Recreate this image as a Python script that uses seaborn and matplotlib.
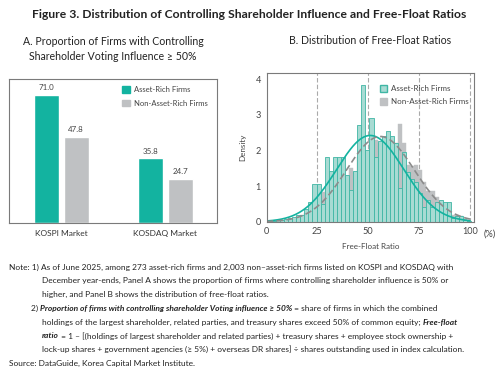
"""
Figure 3: controlling shareholder influence and free-float ratios
"""

import numpy as np
import pandas as pd
import matplotlib
matplotlib.use("Agg")
import matplotlib.pyplot as plt
import matplotlib.patches as mpatches
import seaborn as sns

sns.set_style("white")
plt.rcParams["font.family"] = ["Lato", "DejaVu Sans"]

TEAL = "#13b3a0"
TEAL_LIGHT = "#a8dbd3"
TEAL_EDGE = "#3fb6a4"
GRAY = "#bfc1c3"
GRAY_DARK = "#8c8c8c"
TXT = "#222222"
W, H = 498, 376

# ── data ──────────────────────────────────────────────────────────────────────
markets = ["KOSPI Market", "KOSDAQ Market"]
groups = ["Asset-Rich Firms", "Non-Asset-Rich Firms"]
asset_rich_pct = [71.0, 35.8]
non_asset_rich_pct = [47.8, 24.7]

# free-float histogram, 50 bins of width 2 starting at 0.6 (density, %)
bin_start, bin_width = 0.6, 2.0
asset_rich_density = [
    0.03, 0.03, 0.05, 0.05, 0.08, 0.10, 0.12, 0.20, 0.20, 0.36,
    0.55, 1.06, 1.06, 0.50, 1.82, 1.43, 1.82, 1.82, 1.82, 1.30,
    0.88, 1.43, 2.72, 3.84, 2.00, 2.90, 1.80, 2.27, 2.40, 2.55,
    2.40, 2.20, 0.95, 1.94, 1.38, 1.20, 1.10, 0.80, 0.40, 0.60,
    0.40, 0.55, 0.60, 0.55, 0.55, 0.10, 0.15, 0.15, 0.05, 0.03,
]
non_asset_rich_density = [
    0.02, 0.02, 0.03, 0.05, 0.06, 0.08, 0.10, 0.15, 0.20, 0.25,
    0.35, 0.50, 0.60, 0.82, 1.00, 1.10, 1.20, 1.30, 1.40, 1.20,
    1.50, 1.40, 1.80, 2.00, 1.90, 2.20, 2.30, 2.20, 2.30, 2.40,
    2.30, 2.20, 2.74, 2.20, 1.60, 1.55, 1.60, 1.45, 1.10, 0.85,
    0.85, 0.70, 0.50, 0.45, 0.30, 0.20, 0.20, 0.15, 0.08, 0.03,
]
# fitted normal curves (mean, sd of free-float ratio, %)
asset_rich_fit = (51.0, 16.5)
non_asset_rich_fit = (56.0, 16.7)

title = "Figure 3. Distribution of Controlling Shareholder Influence and Free-Float Ratios"
title_a = "A. Proportion of Firms with Controlling\nShareholder Voting Influence \u2265 50%"
title_b = "B. Distribution of Free-Float Ratios"

notes = [
    (9, [("Note: 1) As of June 2025, among 273 asset-rich firms and 2,003 non\u2013asset-rich firms listed on KOSPI and KOSDAQ with", "")]),
    (42, [("December year-ends, Panel A shows the proportion of firms where controlling shareholder influence is 50% or", "")]),
    (42, [("higher, and Panel B shows the distribution of free-float ratios.", "")]),
    (31, [("2) ", ""), ("Proportion of firms with controlling shareholder Voting influence \u2265 50%", "bi"),
          (" = share of firms in which the combined", "")]),
    (42, [("holdings of the largest shareholder, related parties, and treasury shares exceed 50% of common equity; ", ""),
          ("Free-float", "bi")]),
    (42, [("ratio", "bi"), (" = 1 \u2013 [(holdings of largest shareholder and related parties) + treasury shares + employee stock ownership +", "")]),
    (42, [("lock-up shares + government agencies (\u2265 5%) + overseas DR shares] \u00f7 shares outstanding used in index calculation.", "")]),
    (9, [("Source: DataGuide, Korea Capital Market Institute.", "")]),
]


def px(x, y, w=0, h=0):
    """pixel box (from top-left) -> figure fraction rect"""
    return [x / W, 1 - (y + h) / H, w / W, h / H]


def rich_line(fig, x, y, parts, size=6.0):
    r = fig.canvas.get_renderer()
    for s, style in parts:
        t = fig.text(x / W, 1 - y / H, s, fontsize=size, color=TXT, va="baseline",
                     fontweight="bold" if "b" in style else "normal",
                     fontstyle="italic" if "i" in style else "normal")
        x += t.get_window_extent(r).width


fig = plt.figure(figsize=(W / 100, H / 100), dpi=100)

fig.text(0.5, 1 - 14 / H, title, ha="center", va="center", fontsize=8.7,
         fontweight="bold", color=TXT)
fig.text(113 / W, 1 - 49 / H, title_a, ha="center", va="center", fontsize=7.6,
         color=TXT, linespacing=1.55)
fig.text(370 / W, 1 - 41 / H, title_b, ha="center", va="center", fontsize=7.6, color=TXT)

# ── Panel A: bar chart ────────────────────────────────────────────────────────
df_a = pd.DataFrame({
    "market": markets * 2,
    "group": [groups[0]] * 2 + [groups[1]] * 2,
    "pct": asset_rich_pct + non_asset_rich_pct,
})
ax1 = fig.add_axes(px(9.3, 79.3, 208, 144))
sns.barplot(data=df_a, x="market", y="pct", hue="group", order=markets, hue_order=groups,
            palette=[TEAL, GRAY], width=0.568, gap=0.155, saturation=1, ax=ax1, legend=False)
for c in ax1.containers:
    ax1.bar_label(c, fmt="%.1f", padding=2.5, fontsize=5.7, color="#444444")
ax1.set_xlim(-0.5, 1.5)
ax1.set_ylim(0, 79.5)
ax1.set_yticks([])
ax1.set_xlabel(""); ax1.set_ylabel("")
ax1.tick_params(axis="x", length=0, labelsize=6.0, labelcolor="#333333", pad=5)
for s in ax1.spines.values():
    s.set_color("#7a7a7a"); s.set_linewidth(0.8)
h_a = [mpatches.Patch(color=TEAL, label=groups[0]),
       mpatches.Patch(color=GRAY, label=groups[1])]
ax1.legend(handles=h_a, loc="upper right", bbox_to_anchor=(0.985, 1.0), frameon=False,
           fontsize=5.5, handlelength=0.95, handleheight=0.95, handletextpad=0.5,
           labelspacing=0.85, labelcolor="#444444")

# ── Panel B: histogram + fitted normals ───────────────────────────────────────
n_bins = len(asset_rich_density)
df_b = pd.DataFrame({
    "center": bin_start + bin_width * (np.arange(n_bins) + 0.5),
    "asset": asset_rich_density,
    "non_asset": non_asset_rich_density,
})
hist_kw = dict(x="center", binwidth=bin_width, stat="count",
               binrange=(bin_start, bin_start + bin_width * n_bins))
ax2 = fig.add_axes(px(266.5, 73.3, 207.5, 148.4))
sns.histplot(data=df_b, weights="non_asset", color=GRAY, alpha=1, edgecolor=GRAY,
             linewidth=0.3, ax=ax2, **hist_kw)
sns.histplot(data=df_b, weights="asset", color=TEAL_LIGHT, alpha=1, edgecolor=TEAL_EDGE,
             linewidth=0.6, ax=ax2, **hist_kw)
xs = np.linspace(0, 100, 300)
for (mu, sd), col, ls in [(asset_rich_fit, TEAL, "-"), (non_asset_rich_fit, GRAY_DARK, (0, (4, 2)))]:
    ys = 100 / (sd * np.sqrt(2 * np.pi)) * np.exp(-0.5 * ((xs - mu) / sd) ** 2)
    ax2.plot(xs, ys, color=col, linestyle=ls, linewidth=1.2)
for v in [25, 50, 75, 100]:
    ax2.axvline(v, color="#aaaaaa", linestyle=(0, (4, 2)), linewidth=0.8, zorder=0.5)
ax2.set_xlim(0, 102)
ax2.set_ylim(0, 4.16)
ax2.set_xticks([0, 25, 50, 75, 100])
ax2.set_yticks([0, 1, 2, 3, 4])
ax2.tick_params(direction="in", length=2.5, color="#666666", labelsize=6.6,
                labelcolor="#444444", pad=4)
ax2.set_xlabel("Free-Float Ratio", fontsize=5.8, color="#444444", labelpad=5)
ax2.set_ylabel("Density", fontsize=5.8, color="#444444", labelpad=7)
ax2.text(1.045, -0.083, "(%)", transform=ax2.transAxes, fontsize=6.6, color="#444444",
         ha="left", va="center")
for s in ax2.spines.values():
    s.set_color("#7a7a7a"); s.set_linewidth(0.8)
h_b = [mpatches.Patch(facecolor=TEAL_LIGHT, edgecolor=TEAL_EDGE, label=groups[0]),
       mpatches.Patch(facecolor=GRAY, edgecolor=GRAY, label=groups[1])]
ax2.legend(handles=h_b, loc="upper right", bbox_to_anchor=(1.01, 0.97), frameon=False,
           fontsize=5.8, handlelength=0.9, handleheight=0.9, handletextpad=0.5,
           labelspacing=0.75, labelcolor="#444444")

# ── notes ─────────────────────────────────────────────────────────────────────
for i, (x0, parts) in enumerate(notes):
    rich_line(fig, x0, 269.5 + i * 13.8, parts)

fig.savefig("out.png", dpi=100)
